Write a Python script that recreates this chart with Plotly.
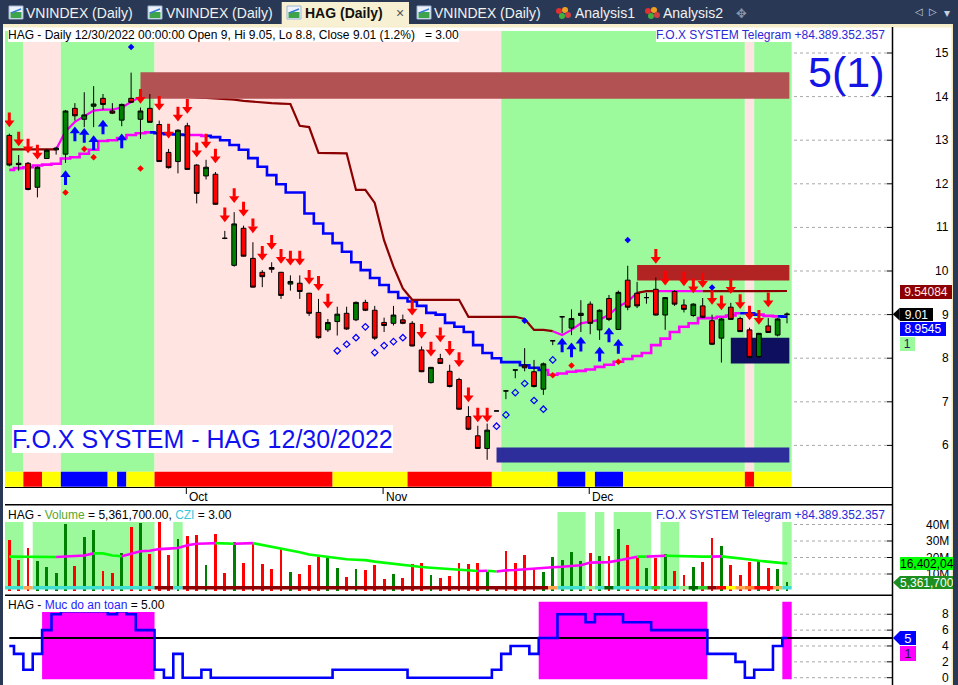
import plotly.graph_objects as go

W, H = 958, 685
FONT = "Liberation Sans, Arial, sans-serif"

# ======================= DATA =======================
month_labels = ["Oct", "Nov", "Dec"]
month_bars = [19, 40, 62]

open_ = [13.11, 12.47, 12.47, 11.92, 12.58, 12.78, 12.68, 13.73, 13.48, 13.78,
         13.96, 13.67, 13.46, 13.96, 13.48, 13.73, 13.36, 12.72, 12.51, 13.33,
         12.43, 12.18, 12.22, 10.75, 10.13, 10.98, 10.29, 9.97, 10.08, 9.97,
         9.70, 9.72, 9.49, 9.05, 8.65, 8.84, 9.03, 8.88, 9.28, 9.10,
         8.82, 8.80, 8.88, 8.80, 8.19, 7.44, 7.99, 7.70, 7.51, 6.66,
         6.22, 5.93, 6.79, 7.25, 7.73, 7.84, 7.69, 7.29, 8.40, 8.95,
         8.69, 8.98, 9.24, 8.65, 9.37, 8.66, 9.79, 9.49, 9.39, 9.58,
         8.99, 9.53, 9.22, 8.98, 9.20, 8.86, 8.46, 9.17, 8.91, 8.65,
         8.04, 8.74, 8.53, 9.00]
high = [13.15, 12.66, 12.50, 12.40, 12.79, 12.85, 13.69, 13.85, 14.10, 14.24,
        14.06, 13.85, 13.84, 14.55, 13.75, 14.06, 13.45, 12.80, 13.25, 13.40,
        12.45, 12.55, 12.27, 10.92, 11.35, 11.04, 10.66, 10.02, 10.20, 9.98,
        9.90, 9.90, 9.50, 9.36, 8.90, 9.18, 9.18, 9.30, 9.34, 9.20,
        8.93, 9.20, 9.00, 8.85, 8.27, 7.80, 8.10, 7.85, 7.55, 6.90,
        6.45, 6.50, 6.79, 7.25, 7.73, 8.23, 7.96, 7.90, 8.40, 8.95,
        9.12, 9.33, 9.30, 9.12, 9.45, 9.55, 10.12, 9.75, 9.50, 9.85,
        9.40, 9.56, 9.35, 9.26, 9.38, 9.00, 8.92, 9.27, 8.95, 8.70,
        8.58, 8.92, 8.92, 9.05]
low = [12.40, 12.30, 11.85, 11.69, 12.57, 12.67, 12.48, 13.45, 13.30, 13.30,
       13.70, 13.60, 13.32, 13.85, 13.03, 13.40, 12.50, 12.35, 12.24, 12.32,
       11.55, 12.10, 11.52, 10.73, 10.10, 10.33, 9.62, 9.63, 9.96, 9.36,
       9.55, 9.36, 8.97, 8.45, 8.60, 8.52, 8.65, 8.85, 9.08, 8.42,
       8.60, 8.75, 8.78, 8.27, 7.68, 7.42, 7.87, 7.33, 6.82, 6.35,
       5.92, 5.67, 6.79, 7.06, 7.54, 7.70, 7.33, 7.16, 8.30, 8.57,
       8.53, 8.60, 8.55, 8.42, 8.85, 8.65, 9.10, 9.15, 9.25, 8.98,
       8.65, 9.20, 9.05, 8.95, 8.92, 8.30, 7.90, 8.88, 8.60, 8.00,
       8.00, 8.58, 8.50, 8.80]
close = [12.43, 12.44, 11.87, 12.38, 12.77, 12.82, 13.67, 13.56, 13.58, 13.83,
         13.82, 13.62, 13.82, 13.87, 13.67, 13.41, 12.51, 12.37, 13.23, 12.33,
         11.78, 12.38, 11.53, 10.75, 11.08, 10.34, 9.63, 9.87, 10.04, 9.44,
         9.76, 9.53, 9.03, 8.47, 8.82, 9.01, 8.67, 9.28, 9.10, 8.46,
         8.75, 8.99, 8.80, 8.28, 7.69, 7.79, 7.88, 7.35, 6.83, 6.37,
         5.93, 6.35, 6.79, 7.25, 7.73, 7.78, 7.35, 7.87, 8.40, 8.95,
         8.91, 9.03, 8.80, 9.10, 8.89, 9.51, 9.17, 9.20, 9.39, 8.99,
         9.39, 9.24, 9.12, 9.24, 8.94, 8.32, 8.90, 8.89, 8.61, 8.02,
         8.57, 8.59, 8.90, 9.01]

# lower trailing line (blue / magenta), upper line (dark red / magenta)
line_a = [12.32, 12.36, 12.38, 12.42, 12.44, 12.46, 12.58, 12.61, 12.69, 12.78,
          12.98, 13.00, 13.05, 13.12, 13.16, 13.18, 13.16, 13.14, 13.13, 13.12,
          13.12, 13.10, 13.07, 13.00, 12.89, 12.78, 12.59, 12.39, 12.20, 11.99,
          11.80, 11.80, 11.32, 11.09, 10.86, 10.64, 10.44, 10.20, 10.02, 9.84,
          9.68, 9.52, 9.38, 9.30, 9.20, 9.04, 9.00, 8.81, 8.72, 8.60,
          8.30, 8.12, 8.00, 7.91, 7.91, 7.84, 7.78, 7.73, 7.62, 7.65,
          7.69, 7.71, 7.74, 7.80, 7.85, 7.92, 7.98, 8.05, 8.12, 8.30,
          8.45, 8.60, 8.72, 8.80, 8.92, 8.92, 8.95, 8.98, 9.03, 9.03,
          9.00, 8.97, 8.96, 8.9545]
line_a_col = "b" + "m" * 15 + "b" * 4 + "m" * 2 + "b" * 36 + "m" * 21 + "b" * 2 + "m" * 2 + "b"
line_b = [12.79, 12.79, 12.79, 12.79, 12.79, 12.79, 13.20, 13.42, 13.55, 13.68,
          13.70, 13.70, 13.75, 13.88, 14.00, 14.05, 14.05, 14.03, 14.02, 14.00,
          13.98, 13.97, 13.96, 13.94, 13.93, 13.90, 13.88, 13.86, 13.85, 13.84,
          13.83, 13.33, 13.30, 12.71, 12.71, 12.70, 12.70, 11.86, 11.86, 11.56,
          10.70, 10.10, 9.60, 9.34, 9.34, 9.34, 9.34, 9.34, 9.34, 8.95,
          8.95, 8.95, 8.95, 8.95, 8.95, 8.90, 8.65, 8.65, 8.62, 8.53,
          8.65, 8.80, 8.84, 8.88, 9.00, 9.18, 9.30, 9.50, 9.54, 9.54,
          9.54, 9.54, 9.54, 9.54, 9.54, 9.54, 9.54, 9.54, 9.54, 9.54,
          9.54, 9.54, 9.54, 9.54084]
line_b_col = "r" * 6 + "m" * 9 + "r" * 44 + "m" * 9 + "rr" + "m" * 5 + "r" * 9

# background regime per bar (g = green, p = pink) and bottom signal strip
zone_price = "gg" + "pppp" + "g" * 10 + "p" * 37 + "g" * 26 + "p" + "g" * 4
strip_price = ("yyrryybbbbbybyyy" + "r" * 19 + "y" * 8 + "r" * 9 + "y" * 7 + "bbb" + "y"
               + "bbb" + "y" * 13 + "r" + "yyyy")

# rectangles drawn on price panel
box_x0 = [14, 67, 77, 52]
box_x1 = [83.25, 83.25, 83.25, 83.25]
box_lo = [13.95, 9.78, 7.88, 5.61]
box_hi = [14.56, 10.14, 8.47, 5.95]
box_col = ["#b35252", "#b22424", "#0f0f5f", "#2d2d9b"]

# signals
sell_bars = [0, 1, 2, 3, 14, 16, 17, 18, 19, 20, 21, 22, 23, 24, 25, 26, 27, 28, 29, 30,
             31, 32, 33, 34, 43, 44, 45, 46, 47, 48, 49, 50, 51, 69, 70, 72, 73, 74, 75, 76,
             77, 78, 79, 80, 81]
sell_tip = [13.31, 12.87, 12.71, 12.57, 13.85, 13.69, 13.05, 13.44, 13.62, 12.62,
            12.82, 12.48, 11.13, 11.57, 11.26, 10.88, 10.25, 10.50, 10.18, 10.14,
            10.14, 9.70, 9.56, 9.15, 8.99, 8.46, 8.05, 8.38, 8.07, 7.81,
            7.00, 6.54, 6.54, 10.18, 9.68, 9.66, 9.50, 9.63, 9.24, 9.11,
            9.49, 9.14, 8.88, 8.78, 9.18]
buy_bars = [6, 7, 8, 9, 10, 12, 59, 60, 61, 63, 64, 65]
buy_tip = [12.30, 13.30, 13.27, 13.10, 13.46, 13.14, 8.46, 8.35, 8.48, 8.25, 8.69, 8.43]
red_dot_bars = [6, 8, 9, 14, 58, 60, 65]
red_dot_val = [11.80, 12.80, 12.61, 12.35, 7.61, 7.83, 7.92]
blue_dot_bars = [13, 55, 66, 75]
blue_dot_val = [15.14, 8.86, 10.71, 9.62]
open_dia_bars = [35, 36, 37, 38, 39, 40, 41, 42, 52, 53, 54, 55, 56, 57, 58]
open_dia_val = [8.17, 8.32, 8.47, 8.72, 8.13, 8.29, 8.38, 8.47, 6.44, 6.70, 7.21, 7.42, 7.03, 6.83, 7.96]

# volume panel (millions)
volume_m = [30.6, 18.5, 25.6, 17.9, 14.4, 10.8, 40.3, 14.8, 32.6, 36.7,
            11.8, 10.8, 22.9, 38.7, 40.7, 22.1, 41.5, 21.5, 31.0, 33.0,
            33.8, 15.5, 34.2, 10.8, 29.2, 16.5, 28.6, 15.9, 12.8, 25.0,
            11.4, 10.0, 15.5, 20.5, 20.5, 13.8, 8.0, 12.8, 12.4, 15.5,
            6.8, 10.0, 7.8, 16.0, 16.9, 9.4, 7.8, 8.8, 16.9, 15.9,
            16.5, 12.0, 1.0, 24.0, 16.9, 21.5, 13.0, 11.2, 20.1, 18.5,
            23.3, 17.9, 22.9, 20.9, 20.9, 37.3, 27.6, 20.1, 13.5, 19.9,
            22.1, 11.8, 9.4, 14.0, 17.1, 31.6, 27.0, 15.5, 9.4, 17.5,
            17.9, 13.5, 13.0, 5.3617]
vol_color = ("rrrggggrgg" "rrgrgrrrgr" "rgrrgrrrrr" "grrrggrgrr" "rgrrrgrrrr"
             "rgrrrrrggg" "ggrgrgrrgr" "grrgrrgrrr" "grgg")
vol_ma = [20.5, 20.5, 20.5, 20.3, 20.3, 20.3, 20.5, 20.6, 21.2, 22.5,
          22.5, 21.2, 20.8, 22.5, 23.8, 24.1, 25.1, 25.4, 25.8, 27.4,
          28.3, 28.5, 28.7, 28.3, 28.3, 28.4, 28.7, 27.6, 26.6, 25.6,
          24.5, 23.2, 21.8, 21.0, 20.4, 19.5, 18.9, 18.6, 18.4, 17.5,
          16.8, 16.0, 15.2, 14.5, 14.2, 13.8, 13.4, 12.8, 12.3, 12.0,
          11.8, 12.0, 11.5, 12.2, 12.4, 12.9, 13.4, 13.8, 14.1, 14.4,
          14.8, 15.3, 16.9, 17.1, 17.2, 18.2, 19.3, 20.5, 20.5, 21.0,
          21.1, 20.9, 20.6, 20.5, 20.5, 20.5, 20.7, 20.2, 19.5, 18.8,
          18.0, 17.3, 16.9, 16.402]
vol_strip = "cco" + "c" * 13 + "ddc" + "d" * 39 + "o" + "ccc" + "lcG" + "cccc" + "mcc" + "lGmdryoOrroc"
vol_zone_start = [0, 3, 18, 59, 63, 65, 70, 83]
vol_zone_end = [1, 15, 18, 61, 63, 68, 71, 83]
vol_zone_top = [41.5, 41.5, 41.5, 47.6, 47.6, 47.6, 41.5, 41.5]

# "Muc do an toan" panel
safety = ([4, 3, 1, 3, 6, 8, 8.4, 8.4, 8.4, 8.4, 8.4, 8, 8.4, 8, 6, 6, 1, 0, 3, 0, 0, 1]
          + [0] * 13 + [1] * 8 + [0] * 9 + [1, 3, 4, 4, 3, 5, 5, 8, 8, 8, 7, 8, 8, 8, 7, 7, 7]
          + [6] * 6 + [3, 3, 3, 2, 0, 1, 1, 4, 5])
safety_level = 5
safe_box_start = [4, 57, 83]
safe_box_end = [15, 74, 83]
safe_box_top = [8.32, 9.58, 9.58]

price_ticks = [6, 7, 8, 9, 10, 11, 12, 13, 14, 15]
vol_ticks = [10, 20, 30, 40]
vol_tick_text = ["10M", "20M", "30M", "40M"]
safety_ticks = [0, 2, 4, 6, 8]

tab_titles = ["VNINDEX (Daily)", "VNINDEX (Daily)", "HAG (Daily)", "VNINDEX (Daily)", "Analysis1", "Analysis2"]

# ======================= GEOMETRY (pixels) =======================
N = len(close)
BAR0_PX, BAR_PX = 9.3, 9.37
PLOT_L, AXIS_PX = 5.0, 892.5


def fx(px):
    return px / W


def fy(py):
    return 1 - py / H


def bar_at(px):
    return (px - BAR0_PX) / BAR_PX


def bar_px(i):
    return BAR0_PX + BAR_PX * i


def price_at(py):
    return 15.0 - (py - 53.0) / 43.6


def price_py(v):
    return 53.0 + (15.0 - v) * 43.6


def vol_at(py):
    return (590.5 - py) / 1.65


def vol_py(v):
    return 590.5 - v * 1.65


def saf_at(py):
    return (677.7 - py) / 7.93


def saf_py(v):
    return 677.7 - v * 7.93


P_TOP, P_BOT = 30.7, 487.5
V_TOP, V_BOT = 506.0, 594.5
S_TOP, S_BOT = 596.5, 685.0
PX = 1 / 43.6

XR = [bar_at(PLOT_L), bar_at(AXIS_PX)]
YR_P = [price_at(P_BOT), price_at(P_TOP)]
YR_V = [vol_at(V_BOT), vol_at(V_TOP)]
YR_S = [saf_at(S_BOT), saf_at(S_TOP)]

ZONE = {"g": "#9cf99c", "p": "#ffe4e1"}
STRIP = {"y": "#ffff00", "r": "#ff0000", "b": "#0000ff"}
VSTRIP = {"c": "#40e0d0", "o": "#ffa54f", "d": "#8b0000", "l": "#90ee90", "G": "#006400",
          "m": "#32cd32", "r": "#ff0000", "y": "#ffff00", "O": "#ff7f27"}
LCOL = {"b": "#0000ff", "m": "#ff00ff", "r": "#8b0000", "g": "#00ff00"}


def runs(codes):
    out, s = [], 0
    for i in range(1, len(codes) + 1):
        if i == len(codes) or codes[i] != codes[s]:
            out.append((codes[s], s, i - 1))
            s = i
    return out


fig = go.Figure()
shapes, annos = [], []


def rect_px(x0, y0, x1, y1, fill, layer="above", line=None):
    shapes.append(dict(type="rect", xref="paper", yref="paper", x0=fx(x0), x1=fx(x1),
                       y0=fy(y1), y1=fy(y0), fillcolor=fill, layer=layer,
                       line=line if line else dict(width=0)))


def line_px(x0, y0, x1, y1, color="black", width=1, dash=None):
    shapes.append(dict(type="line", xref="paper", yref="paper", x0=fx(x0), x1=fx(x1),
                       y0=fy(y0), y1=fy(y1), layer="above",
                       line=dict(color=color, width=width, dash=dash)))


def text_px(x, y, s, size=12, color="black", anchor="left", bg=None, w=None, h=None,
            align="left", family=FONT):
    d = dict(xref="paper", yref="paper", x=fx(x), y=fy(y), text=s, showarrow=False,
             xanchor=anchor, yanchor="middle", align=align, borderpad=0, borderwidth=0,
             font=dict(size=size, color=color, family=family))
    if bg:
        d["bgcolor"] = bg
    if w:
        d["width"] = w
    if h:
        d["height"] = h
        d["valign"] = "middle"
    annos.append(d)


def arrow_box(tip_x, yc, x1, hh, fill):
    # pointer on the left of a label box
    shapes.append(dict(type="path", xref="paper", yref="paper", layer="above",
                       path=f"M{fx(tip_x)},{fy(yc)} L{fx(tip_x + 7)},{fy(yc - hh)} L{fx(tip_x + 7)},{fy(yc + hh)} Z",
                       fillcolor=fill, line=dict(width=0)))


# ---------------- price panel background ----------------
strip_top, strip_bot = price_at(471.7), price_at(486.7)
for code, s, e in runs(zone_price):
    shapes.append(dict(type="rect", xref="x", yref="y", x0=s - 0.5, x1=e + 0.5,
                       y0=strip_top, y1=YR_P[1], fillcolor=ZONE[code], line=dict(width=0),
                       layer="between"))
for code, s, e in runs(strip_price):
    shapes.append(dict(type="rect", xref="x", yref="y", x0=s - 0.5, x1=e + 0.5,
                       y0=strip_bot, y1=strip_top, fillcolor=STRIP[code], line=dict(width=0),
                       layer="between"))


def add_colored_line(values, codes, shape, width, yaxis):
    for code, s, e in runs(codes):
        s0 = max(s - 1, 0)
        xs = list(range(s0, e + 1))
        fig.add_trace(go.Scatter(x=xs, y=values[s0:e + 1], mode="lines", xaxis="x", yaxis=yaxis,
                                 line=dict(color=LCOL[code], width=width, shape=shape),
                                 hoverinfo="skip", showlegend=False))


add_colored_line(line_a, line_a_col, "hvh", 2.6, "y")
add_colored_line(line_b, line_b_col, "linear", 2.2, "y")

for x0, x1, lo, hi, col in zip(box_x0, box_x1, box_lo, box_hi, box_col):
    fig.add_trace(go.Scatter(x=[x0, x1, x1, x0, x0], y=[lo, lo, hi, hi, lo], mode="lines",
                             fill="toself", fillcolor=col, line=dict(width=0, color=col),
                             xaxis="x", yaxis="y", hoverinfo="skip", showlegend=False))

# ---------------- candles & signals (overlay axis, drawn on top) ----------------
bars = list(range(N))
fig.add_trace(go.Candlestick(x=bars, open=open_, high=high, low=low, close=close,
                             xaxis="x", yaxis="y4", whiskerwidth=0,
                             increasing=dict(fillcolor="#008000", line=dict(color="black", width=1)),
                             decreasing=dict(fillcolor="#ff0000", line=dict(color="black", width=1)),
                             hoverinfo="skip", showlegend=False))

fig.add_trace(go.Scatter(x=sell_bars, y=[t + 10 * PX for t in sell_tip], mode="markers", yaxis="y4",
                         marker=dict(symbol="line-ns", size=6, line=dict(color="#ff0000", width=3)),
                         hoverinfo="skip", showlegend=False))
fig.add_trace(go.Scatter(x=sell_bars, y=[t + 4 * PX for t in sell_tip], mode="markers", yaxis="y4",
                         marker=dict(symbol="triangle-down", size=9, color="#ff0000", line=dict(width=0)),
                         hoverinfo="skip", showlegend=False))
fig.add_trace(go.Scatter(x=buy_bars, y=[t - 10 * PX for t in buy_tip], mode="markers", yaxis="y4",
                         marker=dict(symbol="line-ns", size=6, line=dict(color="#0000ff", width=3)),
                         hoverinfo="skip", showlegend=False))
fig.add_trace(go.Scatter(x=buy_bars, y=[t - 4 * PX for t in buy_tip], mode="markers", yaxis="y4",
                         marker=dict(symbol="triangle-up", size=9, color="#0000ff", line=dict(width=0)),
                         hoverinfo="skip", showlegend=False))
fig.add_trace(go.Scatter(x=red_dot_bars, y=red_dot_val, mode="markers", yaxis="y4",
                         marker=dict(symbol="diamond", size=5, color="#ff0000", line=dict(width=0)),
                         hoverinfo="skip", showlegend=False))
fig.add_trace(go.Scatter(x=blue_dot_bars, y=blue_dot_val, mode="markers", yaxis="y4",
                         marker=dict(symbol="diamond", size=5, color="#0000ff", line=dict(width=0)),
                         hoverinfo="skip", showlegend=False))
fig.add_trace(go.Scatter(x=open_dia_bars, y=open_dia_val, mode="markers", yaxis="y4",
                         marker=dict(symbol="diamond-open", size=5, color="#0000ff", line=dict(width=1.2)),
                         hoverinfo="skip", showlegend=False))

# ---------------- volume panel ----------------
for s, e, top in zip(vol_zone_start, vol_zone_end, vol_zone_top):
    shapes.append(dict(type="rect", xref="x", yref="y2", x0=s - 0.5, x1=e + 0.5,
                       y0=vol_at(586), y1=top, fillcolor="#9cf99c", line=dict(width=0),
                       layer="between"))
fig.add_trace(go.Bar(x=bars, y=volume_m, width=0.3, xaxis="x", yaxis="y2",
                     marker=dict(color=["#ff0000" if c == "r" else "#008000" for c in vol_color],
                                 line=dict(width=0)),
                     hoverinfo="skip", showlegend=False))
ma_codes = "g" + "".join("m" if vol_ma[i] > vol_ma[i - 1] else "g" for i in range(1, N))
add_colored_line(vol_ma, ma_codes, "linear", 2.6, "y2")
for code, s, e in runs(vol_strip):
    shapes.append(dict(type="rect", xref="x", yref="y2", x0=s - 0.5, x1=e + 0.5,
                       y0=vol_at(589.5), y1=vol_at(586), fillcolor=VSTRIP[code],
                       line=dict(width=0), layer="above"))

# ---------------- safety panel ----------------
for s, e, top in zip(safe_box_start, safe_box_end, safe_box_top):
    shapes.append(dict(type="rect", xref="x", yref="y3", x0=s - 0.5, x1=e + 0.5,
                       y0=saf_at(679.3), y1=top, fillcolor="#ff00ff", line=dict(width=0),
                       layer="between"))
fig.add_trace(go.Scatter(x=[bar_at(9.3), XR[1]], y=[safety_level, safety_level], mode="lines",
                         xaxis="x", yaxis="y3", line=dict(color="black", width=2),
                         hoverinfo="skip", showlegend=False))
fig.add_trace(go.Scatter(x=bars, y=safety, mode="lines", xaxis="x", yaxis="y3",
                         line=dict(color="#0000ff", width=2.6, shape="hvh"),
                         hoverinfo="skip", showlegend=False))

# ---------------- chrome: tab bar, borders ----------------
NAVY = "#293955"
rect_px(0, 0, W, 24, NAVY)
rect_px(0, 24, W, 27.5, "#f6eecb")
rect_px(281.7, 2, 409, 26, "#f8f0d2")
rect_px(0, 24, 3, H, NAVY)
rect_px(953, 24, W, H, NAVY)
rect_px(951.5, 24, 953, H, "#f2e6b8")

tab_icon_x = [9, 148, 287, 417]
tab_text_x = [26, 165.5, 305, 434]
for k in range(4):
    ix = tab_icon_x[k]
    rect_px(ix, 6, ix + 14, 19, "#eef3fb", line=dict(color="#9fb4d4", width=1))
    rect_px(ix + 1.5, 12, ix + 12.5, 18, "#3da44a")
    line_px(ix + 2, 13, ix + 12, 9, color="#3a7bd5", width=1.5)
for k in range(4):
    bold = k == 2
    txt = f"<b>{tab_titles[k]}</b>" if bold else tab_titles[k]
    text_px(tab_text_x[k], 13.5, txt, size=14, color="#111111" if bold else "#f2f2f2")
text_px(396, 13, "×", size=14, color="#555555")
for hx, tx, title in [(557, 575, tab_titles[4]), (646, 663, tab_titles[5])]:
    for dx, dy, col in [(2, 11, "#e03030"), (8, 10, "#f0a020"), (5, 16, "#40b040"), (11, 15, "#d04040")]:
        shapes.append(dict(type="circle", xref="paper", yref="paper", layer="above",
                           x0=fx(hx + dx - 3), x1=fx(hx + dx + 3), y0=fy(dy + 3), y1=fy(dy - 3),
                           fillcolor=col, line=dict(width=0)))
    text_px(tx, 13.5, title, size=14, color="#f2f2f2")
text_px(741, 13, "✥", size=13, color="#8a97ad", anchor="center", family="DejaVu Sans")
text_px(919, 12, "◁", size=10, color="#c8d0e0", anchor="center", family="DejaVu Sans")
text_px(933, 12, "▷", size=10, color="#c8d0e0", anchor="center", family="DejaVu Sans")
text_px(947, 13, "▾", size=12, color="#c8d0e0", anchor="center", family="DejaVu Sans")

# ---------------- frame lines, axis, grid ----------------
line_px(PLOT_L, P_BOT, AXIS_PX, P_BOT, width=1)
line_px(PLOT_L, 504.8, AXIS_PX, 504.8, width=1.5)
line_px(PLOT_L, 595.3, AXIS_PX, 595.3, width=1.5)
line_px(AXIS_PX, 27, AXIS_PX, H, width=1.5)
GRID_X0 = 794
for v in price_ticks:
    py = price_py(v)
    line_px(GRID_X0, py, 887, py, color="#a8a8a8", width=1, dash="dot")
    line_px(887, py, AXIS_PX, py, width=1)
for v in vol_ticks:
    py = vol_py(v)
    line_px(GRID_X0, py, 887, py, color="#a8a8a8", width=1, dash="dot")
    line_px(887, py, AXIS_PX, py, width=1)
for v in safety_ticks:
    py = saf_py(v)
    line_px(GRID_X0, py, 887, py, color="#a8a8a8", width=1, dash="dot")
    line_px(887, py, AXIS_PX, py, width=1)
for lab, b in zip(month_labels, month_bars):
    bx = bar_px(b) - 1
    line_px(bx, 488, bx, 494, width=1)
    text_px(bx + 3, 496.5, lab, size=12)

# ---------------- titles ----------------
text_px(8, 35, "HAG - Daily 12/30/2022 00:00:00 Open 9, Hi 9.05, Lo 8.8, Close 9.01 (1.2%)&nbsp;&nbsp; = 3.00",
        size=12, bg="white")
text_px(885, 35, "F.O.X SYSTEM Telegram +84.389.352.357", size=12, color="#2a2ad6", anchor="right", bg="white")
text_px(884, 72, "5(1)", size=43, color="#1414e6", anchor="right")
text_px(12, 439, "F.O.X SYSTEM - HAG 12/30/2022", size=25, color="#1010f0", bg="white")
text_px(8, 514.5, 'HAG - <span style="color:#5aa82a">Volume</span> = 5,361,700.00, '
                  '<span style="color:#3cc8dc">CZI</span> = 3.00', size=12, bg="white")
text_px(885, 514.5, "F.O.X SYSTEM Telegram +84.389.352.357", size=12, color="#2a2ad6", anchor="right", bg="white")
text_px(8, 605, 'HAG - <span style="color:#1e1eff">Muc do an toan</span> = 5.00', size=12, bg="white")

# ---------------- right axis labels ----------------
for v in price_ticks:
    text_px(949, price_py(v), str(v), size=12, anchor="right")
for v, t in zip(vol_ticks, vol_tick_text):
    text_px(949, vol_py(v), t, size=12, anchor="right")
for v in safety_ticks:
    text_px(949, saf_py(v), str(v), size=12, anchor="right")

# value labels
text_px(900, price_py(line_b[-1]) + 0.5, f"{line_b[-1]:.5f}".rstrip("0"), size=12, color="#ffe8e8",
        bg="#8b0000", w=52, h=14, align="center")
arrow_box(892.8, price_py(close[-1]), 900, 6.5, "black")
text_px(899.5, price_py(close[-1]), f"{close[-1]:.2f}", size=12, color="white", bg="black", w=33, h=13,
        align="center")
text_px(900, 329, f"{line_a[-1]:.4f}", size=12, color="white", bg="#0000ff", w=46, h=14, align="center")
text_px(900, 344, "1", size=12, color="#202060", bg="#9cf99c", w=14.5, h=14, align="center")

arrow_box(893, 582.5, 900, 6.5, "#1e8e1e")
text_px(899.5, 563.8, "16,402,04", size=12, color="black", bg="#00ff00", w=53, h=13)
text_px(899.5, 582.5, "5,361,700", size=12, color="white", bg="#1e8e1e", w=53, h=13)

arrow_box(893, saf_py(5), 900, 7, "#0000ff")
text_px(899.5, saf_py(5), "5", size=13, color="white", bg="#0000ff", w=15.5, h=14, align="center")
text_px(899.5, 653, "1", size=13, color="#202020", bg="#ff00ff", w=15.5, h=15, align="center")

# ---------------- layout ----------------
hidden = dict(showticklabels=False, showgrid=False, zeroline=False, showline=False, ticks="",
              fixedrange=True)
fig.update_layout(
    width=W, height=H, autosize=False,
    margin=dict(l=0, r=0, t=0, b=0, pad=0),
    paper_bgcolor="white", plot_bgcolor="white",
    showlegend=False, hovermode=False, dragmode=False,
    font=dict(family=FONT, size=12, color="black"),
    xaxis=dict(domain=[fx(PLOT_L), fx(AXIS_PX)], range=XR, rangeslider=dict(visible=False),
               anchor="y3", **hidden),
    yaxis=dict(domain=[fy(P_BOT), fy(P_TOP)], range=YR_P, anchor="x", **hidden),
    yaxis4=dict(overlaying="y", range=YR_P, anchor="x", visible=False, fixedrange=True),
    yaxis2=dict(domain=[fy(V_BOT), fy(V_TOP)], range=YR_V, anchor="x", **hidden),
    yaxis3=dict(domain=[fy(S_BOT), fy(S_TOP)], range=YR_S, anchor="x", **hidden),
    bargap=0, boxgap=0.28,
    shapes=shapes, annotations=annos,
)

fig.write_html("out.html", config={"displayModeBar": False, "staticPlot": True},
               post_script="document.body.style.margin='0';document.body.style.overflow='hidden';")
